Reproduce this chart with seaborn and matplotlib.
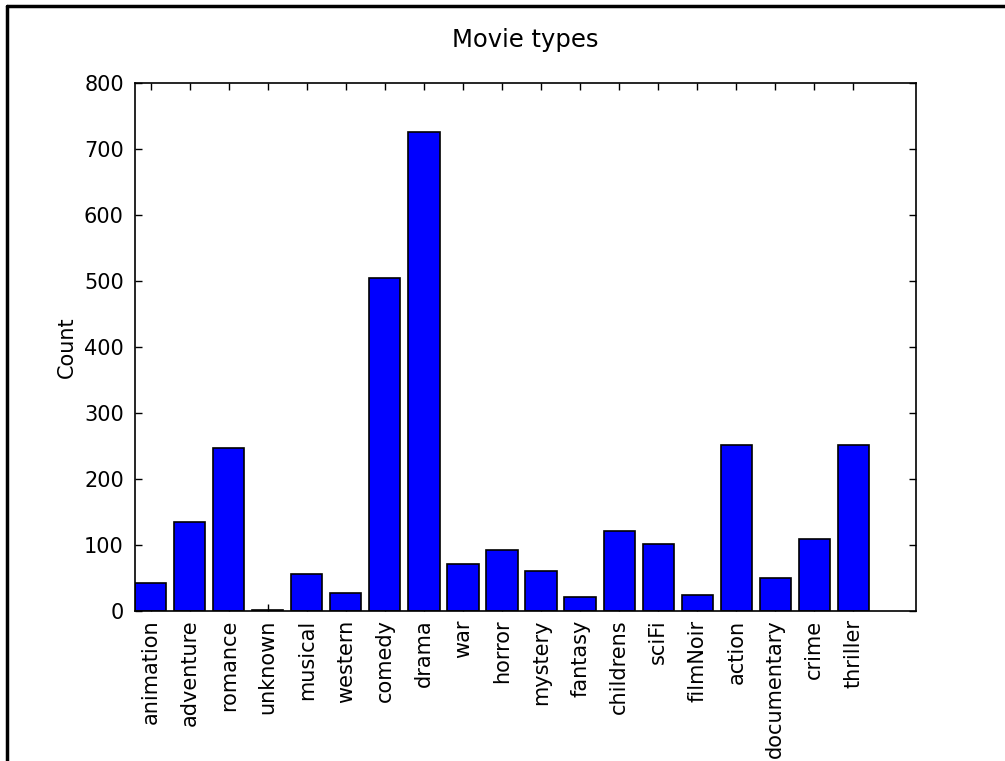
import matplotlib
matplotlib.use('Agg')
import matplotlib.pyplot as plt
from matplotlib.lines import Line2D
import seaborn as sns

# MovieLens genre counts
genres = ['animation', 'adventure', 'romance', 'unknown', 'musical', 'western',
          'comedy', 'drama', 'war', 'horror', 'mystery', 'fantasy', 'childrens',
          'sciFi', 'filmNoir', 'action', 'documentary', 'crime', 'thriller']
counts = [42, 135, 247, 2, 56, 27, 505, 725, 71, 92, 61, 22, 122, 101, 24,
          251, 50, 109, 251]

sns.set_style('white')
plt.rcParams['font.family'] = ['DejaVu Sans']
plt.rcParams['text.color'] = 'black'
plt.rcParams['axes.labelcolor'] = 'black'
plt.rcParams['xtick.color'] = 'black'
plt.rcParams['ytick.color'] = 'black'

fig = plt.figure(figsize=(10.05, 7.61), dpi=100)
ax = fig.add_axes([0.1343, 0.197, 0.777, 0.694])

sns.barplot(x=genres, y=counts, color='#0000ff', saturation=1,
            edgecolor='black', linewidth=1.2, width=0.8, ax=ax)

ax.set_xlim(-0.4, 19.6)
ax.set_ylim(0, 800)
ax.set_yticks(range(0, 801, 100))
ax.set_title('Movie types', fontsize=17.5, pad=26, color='black')
ax.set_ylabel('Count', fontsize=15, labelpad=5)
ax.set_xlabel('')
ax.tick_params(axis='both', direction='in', length=5, width=1, colors='black',
               labelsize=15, top=True, right=True, bottom=True, left=True)
ax.tick_params(axis='x', rotation=90, pad=6)
ax.tick_params(axis='y', pad=8)
for s in ax.spines.values():
    s.set_visible(True)
    s.set_color('black')
    s.set_linewidth(1.2)

# frame of the screenshot
fig.add_artist(Line2D([7 / 1005, 1], [1 - 6 / 761, 1 - 6 / 761], color='black', lw=2.5,
                      transform=fig.transFigure))
fig.add_artist(Line2D([7 / 1005, 7 / 1005], [0, 1 - 6 / 761], color='black', lw=2.5,
                      transform=fig.transFigure))

fig.savefig('out.png', dpi=100)
